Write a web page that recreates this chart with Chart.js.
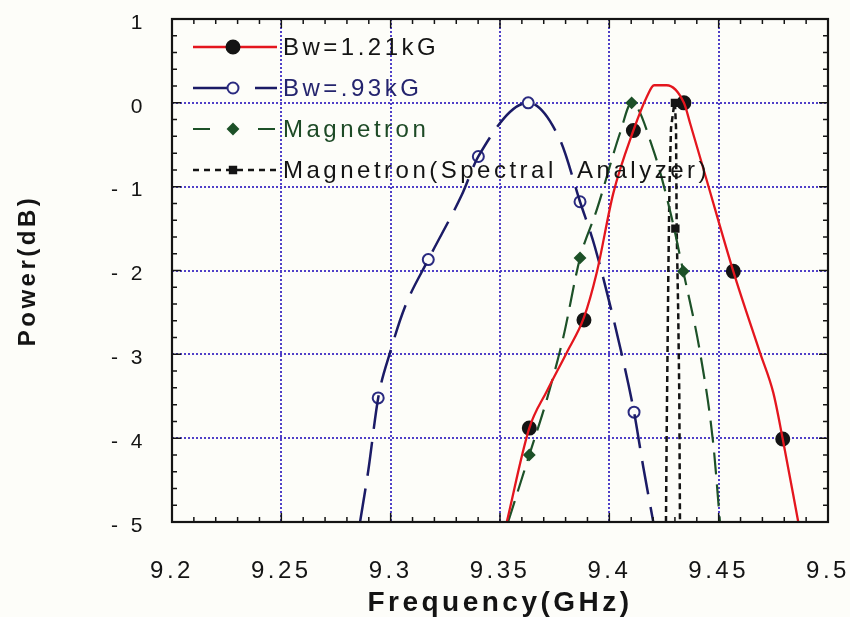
<!DOCTYPE html>
<html lang="en">
<head>
<meta charset="UTF-8">
<title>Power vs Frequency</title>
<script src="https://cdn.jsdelivr.net/npm/chart.js"></script>
<style>
  html, body { margin: 0; padding: 0; background: #fdfdf9; }
  #wrap { width: 850px; height: 617px; }
</style>
</head>
<body>
<div id="wrap"><canvas id="powerChart" width="850" height="617"></canvas></div>
<script>
// axis ranges / ticks
const xRange = [9.2, 9.5];
const yRange = [-5, 1];
const xStep = 0.05, xMinor = 0.01;
const yStep = 1, yMinor = 0.2;

// Bw=1.21kG : fitted curve and measured points
const redCurveX = [9.3531, 9.3634, 9.3714, 9.3805, 9.3884, 9.3942, 9.4018, 9.4110, 9.4171, 9.4205, 9.4262, 9.4341, 9.4369, 9.4445, 9.4567, 9.4689, 9.4750, 9.4793, 9.4864];
const redCurveY = [-5.0, -3.88, -3.44, -2.98, -2.56, -2.03, -1.08, -0.33, 0.07, 0.21, 0.21, 0.0, -0.24, -0.92, -2.01, -2.98, -3.46, -4.01, -5.0];
const redPtsX = [9.3634, 9.3884, 9.4110, 9.4341, 9.4567, 9.4793];
const redPtsY = [-3.88, -2.59, -0.33, 0.0, -2.01, -4.01];

// Bw=.93kG
const blueCurveX = [9.2860, 9.2898, 9.2943, 9.2997, 9.3066, 9.3172, 9.3325, 9.3401, 9.3629, 9.3774, 9.3866, 9.3934, 9.4056, 9.4113, 9.4155, 9.4201];
const blueCurveY = [-5.0, -4.38, -3.52, -2.98, -2.43, -1.87, -1.10, -0.64, 0.0, -0.44, -1.18, -1.72, -2.99, -3.69, -4.34, -5.0];
const bluePtsX = [9.2943, 9.3172, 9.3401, 9.3629, 9.3866, 9.4113];
const bluePtsY = [-3.52, -1.87, -0.64, 0.0, -1.18, -3.69];

// Magnetron
const greenCurveX = [9.3537, 9.3634, 9.3714, 9.3790, 9.3866, 9.3942, 9.4049, 9.4102, 9.4201, 9.4277, 9.4338, 9.4415, 9.4475, 9.4506];
const greenCurveY = [-5.0, -4.2, -3.54, -2.79, -1.85, -1.28, -0.36, 0.0, -0.56, -1.28, -2.01, -2.98, -4.06, -5.0];
const greenPtsX = [9.3634, 9.3866, 9.4102, 9.4338];
const greenPtsY = [-4.2, -1.85, 0.0, -2.01];

// Magnetron (Spectral Analyzer)
const specCurveX = [9.4259, 9.4262, 9.4266, 9.4270, 9.4275, 9.4282, 9.4295, 9.4300, 9.4305, 9.4308, 9.4315, 9.4320, 9.4323];
const specCurveY = [-5.0, -4.0, -3.0, -2.0, -1.0, -0.3, -0.05, 0.0, -0.3, -1.5, -2.5, -3.5, -5.0];
const specPtsX = [9.4300, 9.4302];
const specPtsY = [0.0, -1.5];

const zip = (xs, ys) => xs.map((x, i) => ({ x: x, y: ys[i] }));

const TEXT_SPACING = '3.5px';
const FONT = "'Liberation Sans', Arial, sans-serif";

const curve = (label, xs, ys, color, dash, width) => ({
    label: label,
    data: zip(xs, ys),
    showLine: true,
    borderColor: color,
    borderWidth: width,
    borderDash: dash,
    pointRadius: 0,
    cubicInterpolationMode: 'monotone',
    fill: false
});

const marks = (xs, ys, style, radius, fillColor, lineColor) => ({
    data: zip(xs, ys),
    showLine: false,
    pointStyle: style,
    pointRadius: radius,
    pointBackgroundColor: fillColor,
    pointBorderColor: lineColor,
    pointBorderWidth: 2
});

const datasets = [
    curve('Bw=1.21kG', redCurveX, redCurveY, '#e4161e', [], 2.3),
    marks(redPtsX, redPtsY, 'circle', 6.5, '#141414', '#141414'),
    curve('Bw=.93kG', blueCurveX, blueCurveY, '#1b1b66', [34, 13], 2.5),
    marks(bluePtsX, bluePtsY, 'circle', 5.5, '#fdfdf9', '#2a2a80'),
    curve('Magnetron', greenCurveX, greenCurveY, '#1d5128', [22, 10], 2.2),
    marks(greenPtsX, greenPtsY, 'rectRot', 5, '#1d5128', '#1d5128'),
    curve('Magnetron(Spectral  Analyzer)', specCurveX, specCurveY, '#141414', [6, 4], 2.5),
    marks(specPtsX, specPtsY, 'rect', 4.5, '#141414', '#141414')
];
datasets[6].cubicInterpolationMode = 'default';

// legend rows: curve dataset, marker dataset, sample dash, text colour
const legendRows = [
    { c: 0, m: 1, dash: [], text: '#141414' },
    { c: 2, m: 3, dash: [34, 28], text: '#24246e' },
    { c: 4, m: 5, dash: [17, 48], text: '#1d4a26' },
    { c: 6, m: 7, dash: [6, 5], text: '#141414' }
];

const spacing = {
    id: 'spacing',
    beforeUpdate(chart) { chart.ctx.letterSpacing = TEXT_SPACING; },
    beforeDraw(chart) { chart.ctx.letterSpacing = TEXT_SPACING; }
};

const legendBox = {
    id: 'legendBox',
    afterDatasetsDraw(chart) {
        const ctx = chart.ctx;
        const a = chart.chartArea;
        const x0 = a.left + 21, x1 = a.left + 105, xm = a.left + 61, xt = a.left + 111;
        ctx.save();
        legendRows.forEach((row, i) => {
            const y = a.top + 28 + i * 41;
            const cd = chart.data.datasets[row.c];
            const md = chart.data.datasets[row.m];
            ctx.strokeStyle = cd.borderColor;
            ctx.lineWidth = cd.borderWidth;
            ctx.setLineDash(row.dash);
            ctx.beginPath();
            ctx.moveTo(x0, y);
            ctx.lineTo(x1, y);
            ctx.stroke();
            ctx.setLineDash([]);
            ctx.fillStyle = md.pointBackgroundColor;
            ctx.strokeStyle = md.pointBorderColor;
            ctx.lineWidth = md.pointBorderWidth;
            Chart.helpers.drawPoint(ctx, {
                pointStyle: md.pointStyle,
                radius: md.pointRadius,
                rotation: 0,
                borderWidth: md.pointBorderWidth
            }, xm, y);
            ctx.fillStyle = row.text;
            ctx.font = '24px ' + FONT;
            ctx.letterSpacing = TEXT_SPACING;
            ctx.textBaseline = 'middle';
            ctx.textAlign = 'left';
            ctx.fillText(cd.label, xt, y + 1);
        });
        ctx.restore();
    }
};

const frame = {
    id: 'frame',
    afterDraw(chart) {
        const ctx = chart.ctx;
        const a = chart.chartArea;
        const sx = chart.scales.x, sy = chart.scales.y;
        ctx.save();
        ctx.strokeStyle = '#141414';
        ctx.lineWidth = 1.5;
        ctx.beginPath();
        const nx = Math.round((xRange[1] - xRange[0]) / xMinor);
        for (let i = 0; i <= nx; i++) {
            const px = sx.getPixelForValue(xRange[0] + i * xMinor);
            const len = i % 5 ? 5 : 9;
            ctx.moveTo(px, a.bottom); ctx.lineTo(px, a.bottom - len);
            ctx.moveTo(px, a.top); ctx.lineTo(px, a.top + len);
        }
        const ny = Math.round((yRange[1] - yRange[0]) / yMinor);
        for (let i = 0; i <= ny; i++) {
            const py = sy.getPixelForValue(yRange[0] + i * yMinor);
            const len = i % 5 ? 5 : 9;
            ctx.moveTo(a.left, py); ctx.lineTo(a.left + len, py);
            ctx.moveTo(a.right, py); ctx.lineTo(a.right - len, py);
        }
        ctx.stroke();
        ctx.lineWidth = 2.2;
        ctx.strokeRect(a.left, a.top, a.right - a.left, a.bottom - a.top);
        ctx.restore();
    }
};

// fixed axis boxes, no extra label overflow padding
const fixBox = (s, w, h) => {
    if (w !== null) s.width = w;
    if (h !== null) s.height = h;
    s.paddingLeft = 0;
    s.paddingRight = 0;
    s.paddingTop = 0;
    s.paddingBottom = 0;
};

const gridColor = '#5040c8';

new Chart(document.getElementById('powerChart'), {
    type: 'scatter',
    data: { datasets: datasets },
    options: {
        responsive: false,
        animation: false,
        layout: { padding: { left: 0, top: 19, right: 22, bottom: 0 } },
        plugins: {
            legend: { display: false },
            tooltip: { enabled: false }
        },
        scales: {
            x: {
                type: 'linear',
                min: xRange[0],
                max: xRange[1],
                afterFit: s => fixBox(s, null, 95),
                grid: { color: gridColor, lineWidth: 2, drawTicks: false },
                border: { display: false, dash: [2, 2] },
                ticks: {
                    stepSize: xStep,
                    autoSkip: false,
                    maxRotation: 0,
                    padding: 35,
                    color: '#141414',
                    font: { family: FONT, size: 24 },
                    callback: v => String(parseFloat(v.toFixed(2)))
                },
                title: {
                    display: true,
                    text: 'Frequency(GHz)',
                    color: '#141414',
                    font: { family: FONT, size: 28, weight: 'bold', lineHeight: 1 },
                    padding: { top: 0, bottom: 0 }
                }
            },
            y: {
                type: 'linear',
                min: yRange[0],
                max: yRange[1],
                afterFit: s => fixBox(s, 172, null),
                grid: { color: gridColor, lineWidth: 2, drawTicks: false },
                border: { display: false, dash: [2, 2] },
                ticks: {
                    stepSize: yStep,
                    padding: 26,
                    labelOffset: 4,
                    color: '#141414',
                    font: { family: FONT, size: 21 },
                    callback: v => v < 0 ? '- ' + Math.abs(v) : String(v)
                },
                title: {
                    display: true,
                    text: 'Power(dB)',
                    color: '#141414',
                    font: { family: FONT, size: 24, weight: 'bold', lineHeight: 1 },
                    padding: { top: 16, bottom: 16 }
                }
            }
        }
    },
    plugins: [spacing, legendBox, frame]
});
</script>
</body>
</html>
